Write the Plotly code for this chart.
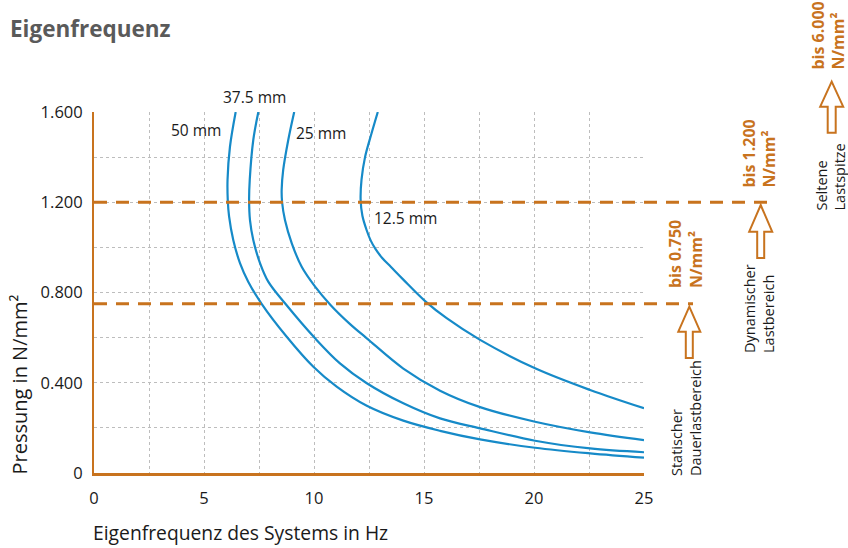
import plotly.graph_objects as go

# ---------------- data ----------------
x_125 = [12.9, 12.6, 12.32, 12.16, 12.12, 12.2, 12.39, 12.58, 12.8, 13.1, 13.5, 14.06, 15.05, 16.03, 17.55, 20.05, 22.55, 25.0]
y_125 = [1.6, 1.5, 1.40, 1.30, 1.21, 1.14, 1.077, 1.03, 0.992, 0.953, 0.913, 0.857, 0.762, 0.686, 0.590, 0.464, 0.368, 0.287]

x_25 = [9.1, 8.83, 8.6, 8.53, 8.55, 8.68, 8.99, 9.44, 10.05, 10.75, 11.64, 12.4, 14.06, 15.73, 17.55, 20.05, 22.55, 25.0]
y_25 = [1.6, 1.476, 1.343, 1.254, 1.2, 1.121, 1.018, 0.914, 0.826, 0.745, 0.66, 0.597, 0.463, 0.365, 0.292, 0.227, 0.180, 0.146]

x_375 = [7.47, 7.24, 7.08, 7.05, 7.09, 7.24, 7.55, 7.92, 8.7, 10.05, 11.18, 12.4, 14.06, 15.73, 17.55, 20.05, 22.55, 25.0]
y_375 = [1.6, 1.476, 1.30, 1.21, 1.121, 1.033, 0.929, 0.848, 0.75, 0.597, 0.486, 0.398, 0.309, 0.242, 0.198, 0.143, 0.109, 0.092]

x_50 = [6.44, 6.18, 6.07, 6.08, 6.14, 6.33, 6.64, 7.01, 7.62, 8.76, 9.97, 11.03, 12.4, 14.06, 15.73, 17.55, 20.05, 22.55, 25.0]
y_50 = [1.6, 1.446, 1.30, 1.21, 1.137, 1.033, 0.929, 0.848, 0.75, 0.604, 0.471, 0.383, 0.298, 0.232, 0.187, 0.149, 0.112, 0.087, 0.068]

series_names = ["12.5 mm", "25 mm", "37.5 mm", "50 mm"]
series_x = [x_125, x_25, x_375, x_50]
series_y = [y_125, y_25, y_375, y_50]
label_x = [14.18, 10.32, 7.3, 4.64]
label_y = [1.130, 1.507, 1.666, 1.52]

x_tickvals = [0, 2.5, 5, 7.5, 10, 12.5, 15, 17.5, 20, 22.5, 25]
x_ticktext = ["0", "", "5", "", "10", "", "15", "", "20", "", "25"]
y_tickvals = [0, 0.2, 0.4, 0.6, 0.8, 1.0, 1.2, 1.4, 1.6]
y_ticktext = ["0", "", "0.400", "", "0.800", "", "1.200", "", "1.600"]

limit_values = [0.75, 1.2]
limit_labels = ["bis 0.750<br>N/mm²", "bis 1.200<br>N/mm²", "bis 6.000<br>N/mm²"]
range_labels = ["Statischer<br>Dauerlastbereich", "Dynamischer<br>Lastbereich", "Seltene<br>Lastspitze"]

# ---------------- style ----------------
W, H = 848, 548
L, R, T, B = 94, 644, 112, 473
X_MAX, Y_MAX = 25.0, 1.6
ORANGE = "#c8731e"
BLUE = "#168ac8"
FONT = "Open Sans, sans-serif"


def px(x):
    return (x - L) / (R - L)


def py(y):
    return (B - y) / (B - T)


fig = go.Figure()

for nm, xs, ys in zip(series_names, series_x, series_y):
    fig.add_trace(go.Scatter(x=xs, y=ys, mode="lines", name=nm,
                             line=dict(color=BLUE, width=2.2, shape="spline", smoothing=1.0),
                             showlegend=False, hoverinfo="skip"))

# curve labels (paper refs so the one above the top of the axis stays visible)
for nm, lx, ly in zip(series_names, label_x, label_y):
    fig.add_annotation(x=lx / X_MAX, y=ly / Y_MAX, xref="paper", yref="paper", text=nm, showarrow=False,
                       xanchor="center", yanchor="middle",
                       font=dict(family=FONT, size=15.5, color="#1a1a1a"))

# dashed limit lines (extending beyond plot)
line_ends = [693, 767]
for v, xe in zip(limit_values, line_ends):
    fig.add_shape(type="line", xref="paper", yref="y", x0=0, x1=px(xe), y0=v, y1=v,
                  line=dict(color=ORANGE, width=3, dash="13px,9px"), layer="above")

# hollow arrows: (tip_x, tip_y, head_half, head_bottom, shaft_half, bottom)
arrows = [(689.3, 306.7, 11, 331.7, 3.5, 358),
          (760.7, 205, 11.5, 231.7, 3.5, 258),
          (831.7, 81.7, 11.5, 106.7, 4, 132.7)]
for tx, ty, hh, hb, sh, bt in arrows:
    pts = [(tx, ty), (tx + hh, hb), (tx + sh, hb), (tx + sh, bt), (tx - sh, bt), (tx - sh, hb), (tx - hh, hb)]
    path = "M " + " L ".join(f"{px(a):.5f},{py(b):.5f}" for a, b in pts) + " Z"
    fig.add_shape(type="path", xref="paper", yref="paper", path=path,
                  line=dict(color=ORANGE, width=2), fillcolor="white")

# limit labels (rotated, bold orange)
lim_pos = [(685, 290), (758.5, 190), (828.5, 72)]
for (lx, lb), txt in zip(lim_pos, limit_labels):
    fig.add_annotation(x=px(lx), y=py(lb), xref="paper", yref="paper", text=f"<b>{txt}</b>",
                       textangle=-90, showarrow=False, xanchor="center", yanchor="bottom", align="left",
                       font=dict(family=FONT, size=16, color=ORANGE))

rng_pos = [(686, 478), (758.5, 355), (830, 213)]
for (lx, lb), txt in zip(rng_pos, range_labels):
    fig.add_annotation(x=px(lx), y=py(lb), xref="paper", yref="paper", text=txt,
                       textangle=-90, showarrow=False, xanchor="center", yanchor="bottom", align="left",
                       font=dict(family=FONT, size=14.5, color="#1a1a1a"))

# title and axis titles
fig.add_annotation(x=px(8), y=py(28), xref="paper", yref="paper", text="<b>Eigenfrequenz</b>",
                   showarrow=False, xanchor="left", yanchor="middle",
                   font=dict(family=FONT, size=22.5, color="#5a5a5a"))
fig.add_annotation(x=px(91), y=py(532), xref="paper", yref="paper", text="Eigenfrequenz des Systems in Hz",
                   showarrow=False, xanchor="left", yanchor="middle",
                   font=dict(family=FONT, size=19.3, color="#1a1a1a"))
fig.add_annotation(x=px(19.5), y=py(477), xref="paper", yref="paper", text="Pressung in N/mm²",
                   textangle=-90, showarrow=False, xanchor="center", yanchor="bottom",
                   font=dict(family=FONT, size=20, color="#1a1a1a"))

grid = dict(showgrid=True, gridcolor="#bdbdbd", gridwidth=1, griddash="dot")
fig.update_xaxes(range=[0, X_MAX], tickvals=x_tickvals, ticktext=x_ticktext, showline=True,
                 linecolor=ORANGE, linewidth=2.5, zeroline=False, ticks="", ticklabelstandoff=8,
                 tickfont=dict(family=FONT, size=16.5, color="#1a1a1a"), **grid)
fig.update_yaxes(range=[0, Y_MAX], tickvals=y_tickvals, ticktext=y_ticktext, showline=True,
                 linecolor=ORANGE, linewidth=2, zeroline=False, ticks="", ticklabelstandoff=6,
                 tickfont=dict(family=FONT, size=16.5, color="#1a1a1a"), **grid)

fig.update_layout(width=W, height=H, margin=dict(l=L, r=W - R, t=T, b=H - B),
                  paper_bgcolor="white", plot_bgcolor="white", showlegend=False)

fig.write_html("out.html", config={"displayModeBar": False},
               post_script="document.body.style.margin='0px';document.body.style.overflow='hidden';")
